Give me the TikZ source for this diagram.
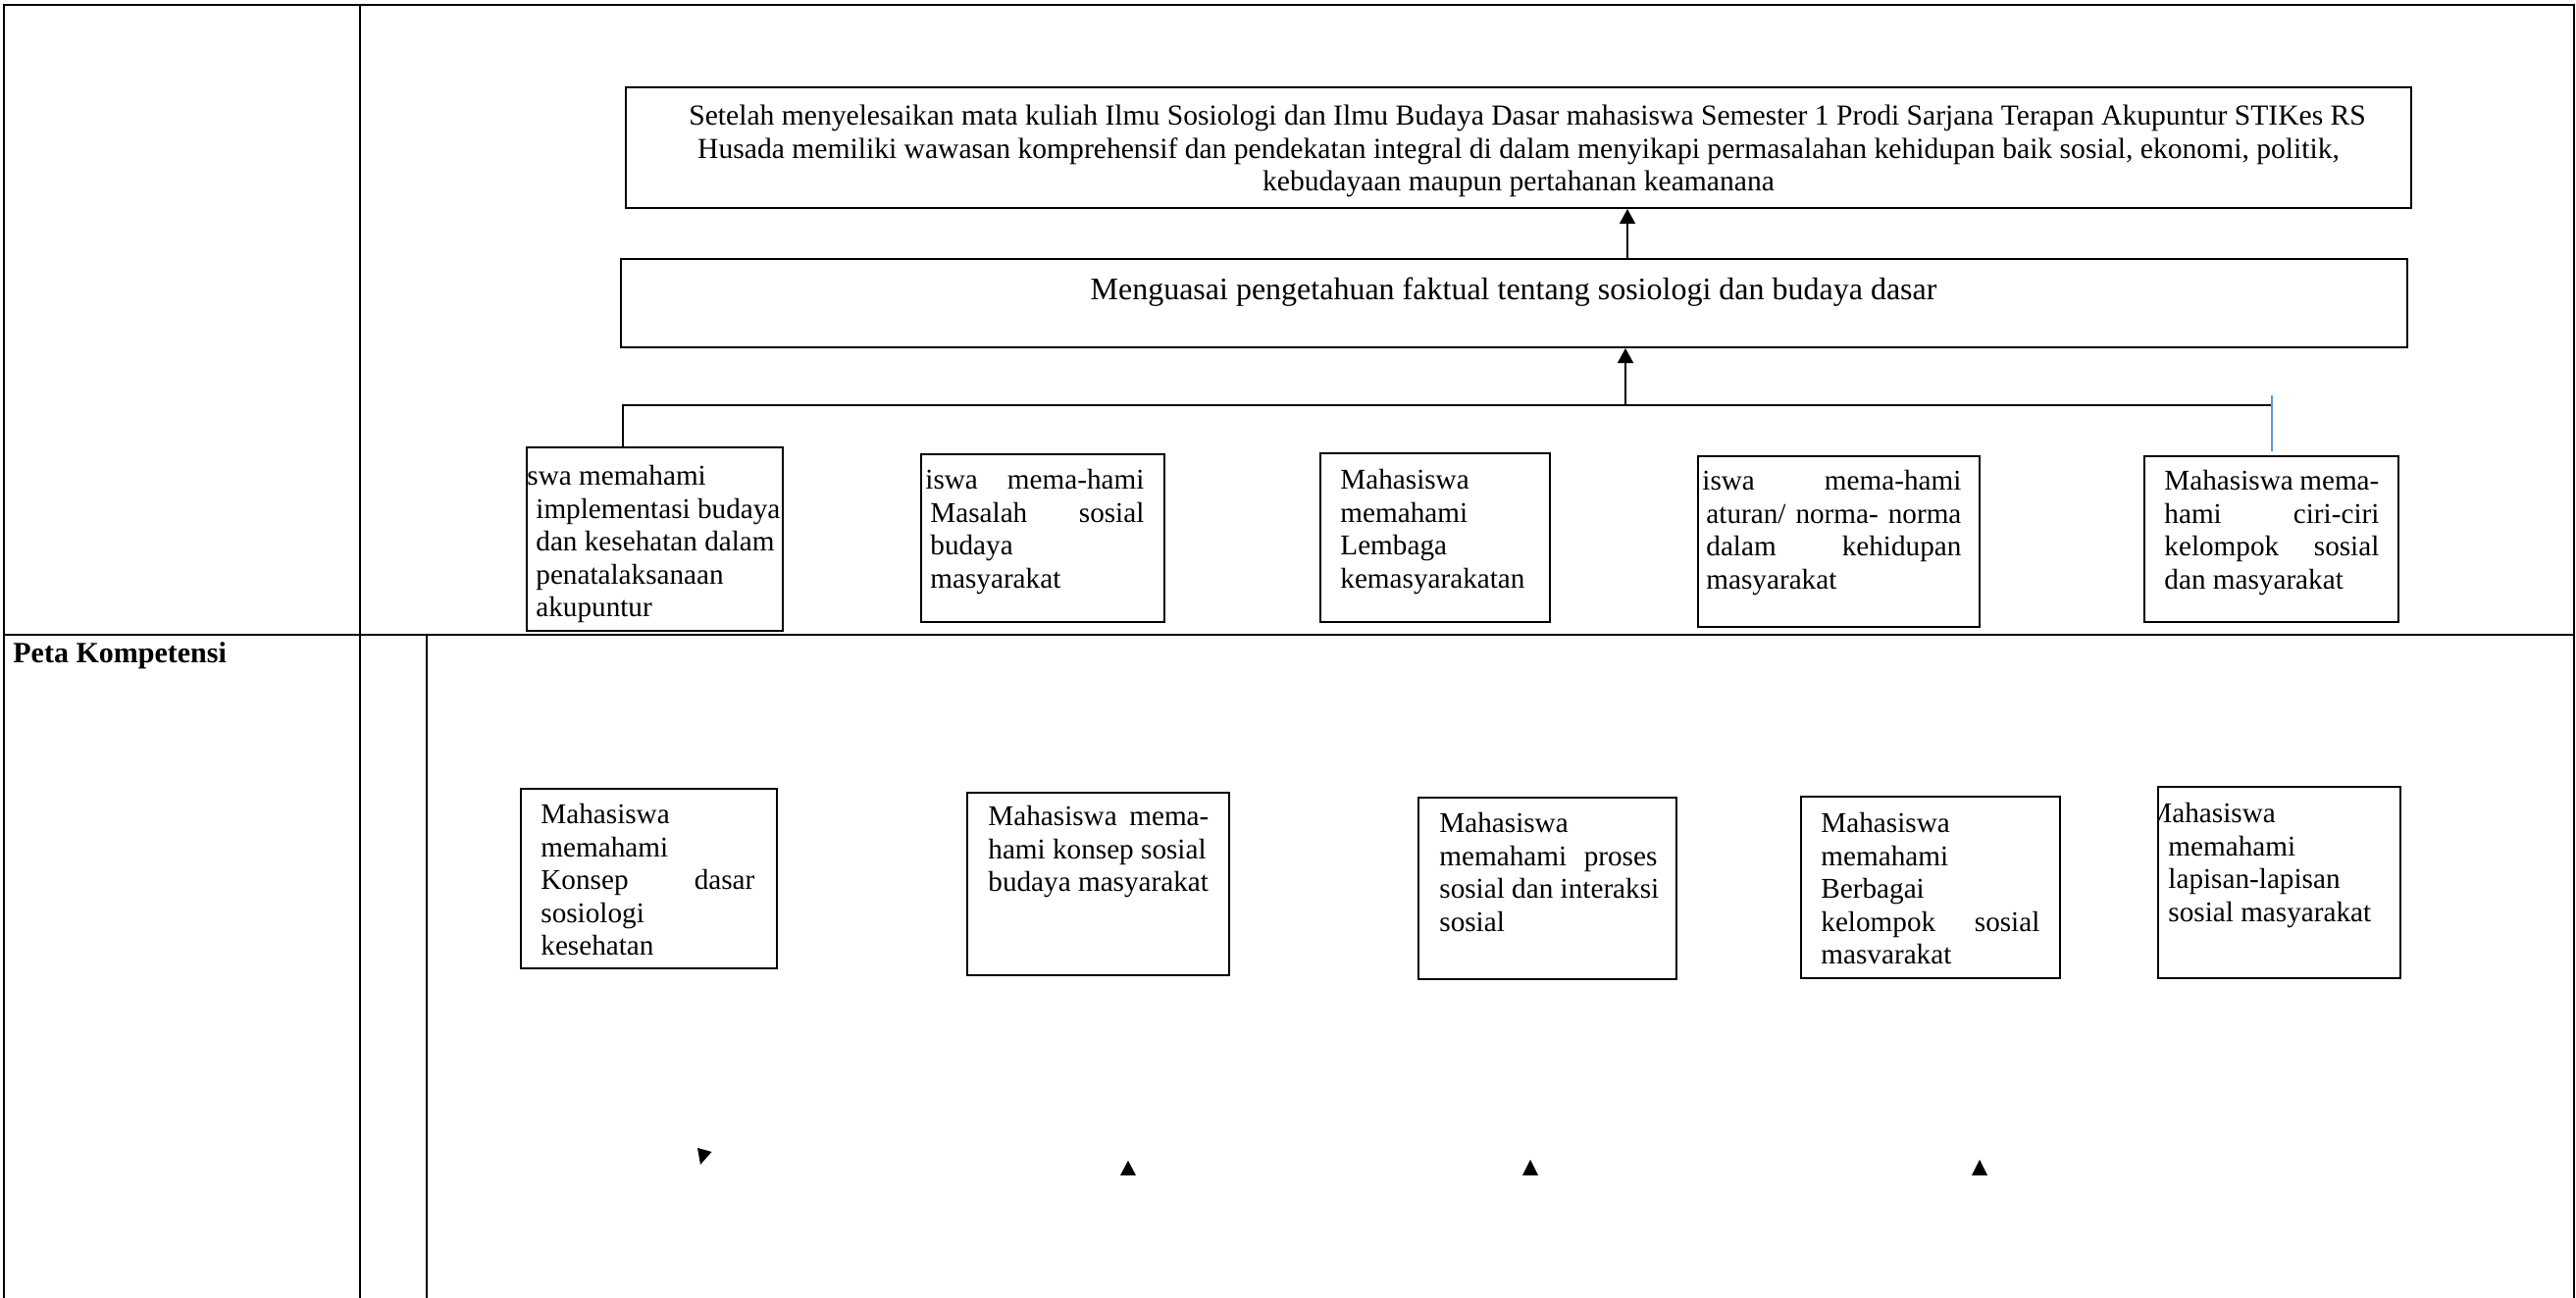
\documentclass[tikz,border=0pt]{standalone}
\usepackage{fontspec}
\setmainfont{Liberation Serif}
\usetikzlibrary{fit,arrows.meta}
\newcommand\bxfont{\fontsize{14.6}{16.8}\selectfont}
\newcommand\topfont{\fontsize{14.8}{16.8}\selectfont}
\newcommand\midfont{\fontsize{16}{16.8}\selectfont}
\tikzset{
  tbl/.style={line width=1.4pt, line cap=rect},
  bx/.style={draw, line width=1pt, inner sep=0pt, rectangle},
  txt/.style={anchor=north west, inner sep=0pt, align=left, font=\bxfont},
  conn/.style={line width=1pt},
  upar/.style={line width=1pt, -{Triangle[length=7.5pt,width=8pt]}},
  thinar/.style={line width=0.6pt, -{Triangle[length=7.5pt,width=8pt]}},
  blueln/.style={line width=0.8pt, draw={rgb,255:red,91;green,155;blue,213}},
}
\begin{document}
\begin{tikzpicture}[x=0.5pt,y=-0.5pt]
\useasboundingbox (0,0) rectangle (2626,1322);
% table grid
\draw[tbl] (4,1322) -- (4,5) -- (2624,5) -- (2624,1322);
\draw[tbl] (367,5) -- (367,1322);
\draw[tbl] (4,647) -- (2624,647);
\draw[tbl] (435,647) -- (435,1322);
\node[anchor=base west, inner sep=0pt, font=\fontsize{15}{17}\selectfont\bfseries] (peta) at (13,675) {Peta Kompetensi};

% top boxes
\node[bx, fit={(638,89) (2458,212)}] (top) {};
\node[anchor=north, inner sep=0pt, align=center, font=\topfont] (ttop) at (1548,103.5) {\strut\hspace*{9pt}Setelah menyelesaikan mata kuliah Ilmu Sosiologi dan Ilmu Budaya Dasar mahasiswa Semester 1 Prodi Sarjana Terapan Akupuntur STIKes RS\\ Husada memiliki wawasan komprehensif dan pendekatan integral di dalam menyikapi permasalahan kehidupan baik sosial, ekonomi, politik,\\ kebudayaan maupun pertahanan keamanana};
\node[bx, fit={(633,264) (2454,354)}] (mid) {};
\node[anchor=base, inner sep=0pt, font=\midfont] (tmid) at (1543,305) {Menguasai pengetahuan faktual tentang sosiologi dan budaya dasar};

% upper row boxes
\node[bx, fit={(537,456) (798,643)}] (b1) {};
\node[txt] (t1) at (546,470.5) {\hspace*{-4.5pt}\strut swa memahami\\ implementasi budaya\\ dan kesehatan dalam\\ penatalaksanaan\\ akupuntur};
\node[bx, fit={(939,463) (1187,634)}] (b2) {};
\node[txt] (t2) at (948,474.5) {\hspace*{-2.5pt}\strut\makebox[111.5pt][s]{iswa mema-hami}\\ \makebox[109pt][s]{Masalah sosial}\\ budaya\\ masyarakat};
\node[bx, fit={(1346,462) (1580,634)}] (b3) {};
\node[txt] (t3) at (1366,474.5) {\strut Mahasiswa\\ memahami\\ Lembaga\\ kemasyarakatan};
\node[bx, fit={(1731,465) (2018,639)}] (b4) {};
\node[txt] (t4) at (1739,475.5) {\hspace*{-2pt}\strut\makebox[132pt][s]{iswa mema-hami}\\ \makebox[130pt][s]{aturan/ norma- norma}\\ \makebox[130pt][s]{dalam kehidupan}\\ masyarakat};
\node[bx, fit={(2186,465) (2445,634)}] (b5) {};
\node[txt] (t5) at (2206,475.5) {\strut\makebox[109.5pt][s]{Mahasiswa mema-}\\ \makebox[109.5pt][s]{hami ciri-ciri}\\ \makebox[109.5pt][s]{kelompok sosial}\\ dan masyarakat};

% connectors upper part
\coordinate (jL) at (635,413);
\coordinate (jM) at (1657,413);
\coordinate (jR) at (2316,413);
\coordinate (ax) at (1659,0);
\draw[conn] (jL |- b1.north) -- (jL) -- (jR);
\draw[upar] (jM) -- (jM |- mid.south);
\draw[thinar] (ax |- mid.north) -- (ax |- top.south);
\coordinate (bl1) at (2316,403);
\coordinate (bl2) at (2316,460);
\draw[blueln] (bl1) -- (bl2);

% lower row boxes
\node[bx, fit={(531,804) (792,987)}] (b6) {};
\node[txt] (t6) at (551,815.5) {\strut Mahasiswa\\ memahami\\ \makebox[109pt][s]{Konsep dasar}\\ sosiologi\\ kesehatan};
\node[bx, fit={(986,808) (1253,994)}] (b7) {};
\node[txt] (t7) at (1007,817.5) {\strut\makebox[112.5pt][s]{Mahasiswa mema-}\\ hami konsep sosial\\ budaya masyarakat};
\node[bx, fit={(1446,813) (1709,998)}] (b8) {};
\node[txt] (t8) at (1467,824.5) {\strut Mahasiswa\\ \makebox[111pt][s]{memahami proses}\\ sosial dan interaksi\\ sosial};
\node[bx, fit={(1836,812) (2100,997)}] (b9) {};
\node[txt] (t9) at (1856,824.5) {\strut Mahasiswa\\ memahami\\ Berbagai\\ \makebox[111.5pt][s]{kelompok sosial}\\ masvarakat};
\node[bx, fit={(2200,802) (2447,997)}] (b10) {};
\begin{scope}
\clip (b10.south west) rectangle (b10.north east);
\node[txt] (t10) at (2210,814.5) {\hspace*{-11pt}\strut Mahasiswa\\ memahami\\ lapisan-lapisan\\ sosial masyarakat};
\end{scope}

% loose arrowheads
\fill (711,1170) -- (725.5,1174) -- (714,1187) -- cycle;
\fill (1150,1183) -- (1158,1198) -- (1142,1198) -- cycle;
\fill (1560,1182) -- (1568,1198) -- (1552,1198) -- cycle;
\fill (2018,1182) -- (2026,1198) -- (2010,1198) -- cycle;
\end{tikzpicture}
\end{document}
